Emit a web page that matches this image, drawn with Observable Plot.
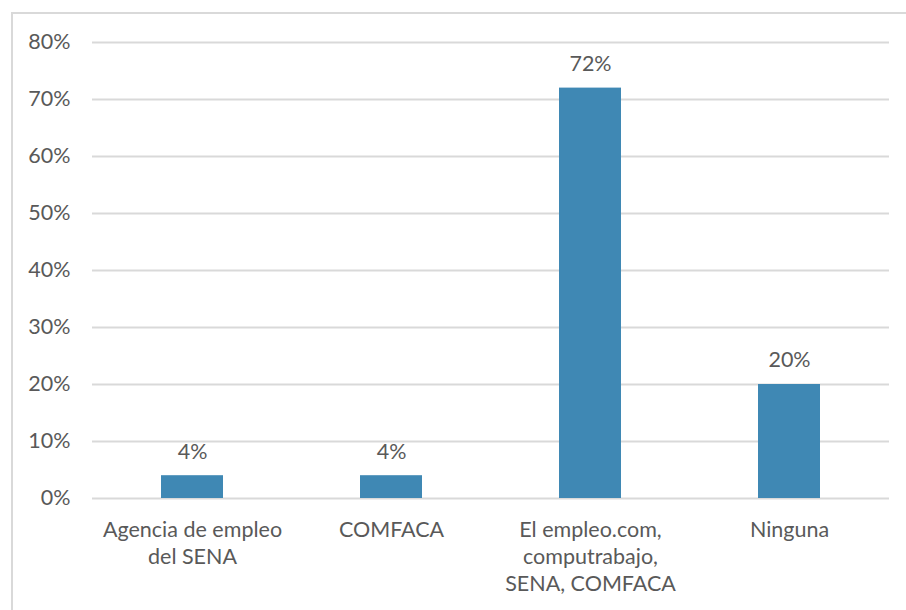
<!DOCTYPE html>
<html>
<head>
<meta charset="utf-8">
<script src="https://cdn.jsdelivr.net/npm/d3@7"></script>
<script src="https://cdn.jsdelivr.net/npm/@observablehq/plot@0.6"></script>
<style>
  html, body { margin: 0; padding: 0; background: #fff; }
  #wrap { position: relative; width: 906px; height: 610px; overflow: hidden; }
  #frame { position: absolute; left: 11px; top: 12px; width: 900px; height: 620px; border: 2px solid #d9d9d9; box-sizing: border-box; }
  #chart { position: absolute; left: 0; top: 0; }
</style>
</head>
<body>
<div id="wrap">
  <div id="frame"></div>
  <div id="chart"></div>
</div>
<script>
const categories = [
  "Agencia de empleo\ndel SENA",
  "COMFACA",
  "El empleo.com,\ncomputrabajo,\nSENA, COMFACA",
  "Ninguna"
];
const values = [4, 4, 72, 20];
const yTicks = [0, 10, 20, 30, 40, 50, 60, 70, 80];

const data = categories.map((c, i) => ({category: c, value: values[i]}));
const fontFamily = "Lato, 'Open Sans', sans-serif";
const textColor = "#595959";
const fs = 21.5;

const chart = Plot.plot({
  width: 906,
  height: 610,
  marginLeft: 92,
  marginRight: 17,
  marginTop: 42,
  marginBottom: 112,
  style: {fontFamily, fontSize: fs + "px", color: textColor, background: "transparent", overflow: "visible"},
  x: {domain: categories, paddingInner: 0.69, paddingOuter: 0.345, align: 0.5, label: null},
  y: {domain: [0, 80], label: null},
  marks: [
    Plot.gridY(yTicks, {stroke: "#d9d9d9", strokeOpacity: 1, strokeWidth: 2}),
    Plot.barY(data, {x: "category", y: "value", fill: "#3f88b4"}),
    Plot.text(data, {x: "category", y: "value", text: d => d.value + "%", dy: -24, fill: textColor, fontSize: fs}),
    Plot.axisY(yTicks, {tickSize: 0, tickPadding: 22, tickFormat: d => d + "%", fill: textColor, fontSize: fs, label: null}),
    Plot.axisX({tickSize: 0, tickPadding: 19, fill: textColor, fontSize: fs, lineHeight: 27 / fs, label: null})
  ]
});
document.getElementById("chart").appendChild(chart);
</script>
</body>
</html>
